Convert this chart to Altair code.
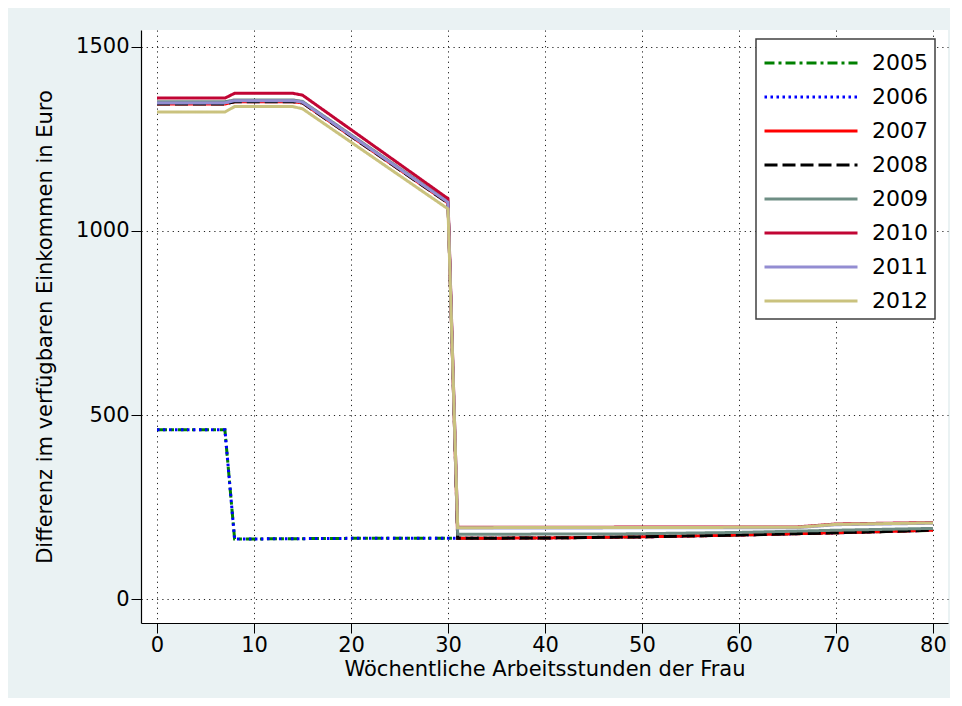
import altair as alt
import pandas as pd

years = ["2005", "2006", "2007", "2008", "2009", "2010", "2011", "2012"]
colors = ["#008000", "#0000FF", "#FF0000", "#000000", "#6E8E84", "#C10534", "#938DD2", "#CAC27E"]
dashes = [[10, 4, 3, 4], [2.5, 3.5], [1, 0], [13, 5], [1, 0], [1, 0], [1, 0], [1, 0]]

x_low = [0, 7, 8, 20, 30, 31, 40, 50, 60, 70, 80]
y_2005 = [460, 460, 163, 165, 165, 165, 166, 169, 174, 180, 187]
y_2006 = [460, 460, 163, 165, 165, 165, 166, 169, 174, 180, 187]

x_mid = [0, 7, 8, 14, 15, 30, 31, 40, 50, 60, 70, 80]
y_2007 = [1345, 1345, 1351, 1351, 1348, 1076, 165, 166, 169, 174, 180, 187]
y_2008 = [1345, 1345, 1351, 1351, 1348, 1076, 165, 166, 169, 174, 180, 187]

x_2009 = [0, 7, 8, 14, 15, 30, 31, 48, 60, 70, 80]
y_2009 = [1351, 1351, 1356, 1356, 1352, 1080, 176, 177, 181, 187, 192]

x_high = [0, 7, 8, 14, 15, 30, 31, 66, 70, 80]
y_2010 = [1361, 1361, 1374, 1374, 1369, 1088, 195, 196, 204, 208]
y_2011 = [1348, 1348, 1354, 1354, 1350, 1078, 193, 194, 202, 206]
y_2012 = [1323, 1323, 1338, 1338, 1332, 1060, 194, 195, 203, 207]

series = [
    ("2005", x_low, y_2005), ("2006", x_low, y_2006),
    ("2007", x_mid, y_2007), ("2008", x_mid, y_2008),
    ("2009", x_2009, y_2009), ("2010", x_high, y_2010),
    ("2011", x_high, y_2011), ("2012", x_high, y_2012),
]
rows = []
for yr, xs, ys in series:
    for i, (a, b) in enumerate(zip(xs, ys)):
        rows.append({"year": yr, "x": a, "y": b, "i": i})
df = pd.DataFrame(rows)

FONT = "DejaVu Sans"

legend = alt.Legend(
    title=None, orient="none", legendX=615, legendY=9,
    symbolType="M-3,0H3", symbolSize=961, symbolStrokeWidth=3,
    symbolOffset=31, labelOffset=44, padding=7, rowPadding=6,
    labelFont=FONT, labelFontSize=22, labelColor="black",
    fillColor="white", strokeColor="#404040",
)

chart = alt.Chart(df).mark_line(strokeWidth=3, clip=True).encode(
    x=alt.X("x:Q", scale=alt.Scale(domain=[-1.65, 81.55], nice=False, zero=False),
            axis=alt.Axis(values=list(range(0, 81, 10)), title="Wöchentliche Arbeitsstunden der Frau",
                          format="d", labelPadding=1, titlePadding=3)),
    y=alt.Y("y:Q", scale=alt.Scale(domain=[-65, 1546], nice=False, zero=False),
            axis=alt.Axis(values=[0, 500, 1000, 1500], title="Differenz im verfügbaren Einkommen in Euro",
                          format="d", labelPadding=2, titlePadding=20)),
    color=alt.Color("year:N", scale=alt.Scale(domain=years, range=colors), legend=legend),
    strokeDash=alt.StrokeDash("year:N", scale=alt.Scale(domain=years, range=dashes), legend=legend),
    order="i:Q",
).properties(
    width=807, height=593,
    autosize=alt.AutoSizeParams(type="none"),
    padding={"left": 133, "top": 22, "right": 2, "bottom": 75},
).configure(
    background="#EAF2F3",
).configure_view(
    fill="white", stroke=None,
).configure_axis(
    domainColor="black", domainWidth=1.2, tickColor="black", tickSize=10, tickWidth=1,
    labelFont=FONT, labelFontSize=21, labelColor="black",
    titleFont=FONT, titleFontSize=21, titleColor="black", titleFontWeight="normal",
    grid=True, gridColor="#222222", gridDash=[1.2, 4], gridWidth=1, gridOpacity=1,
    labelAngle=0,
).configure_legend(
    strokeWidth=1.5,
)

chart.save("out.html", embed_options={"renderer": "svg", "actions": False})
